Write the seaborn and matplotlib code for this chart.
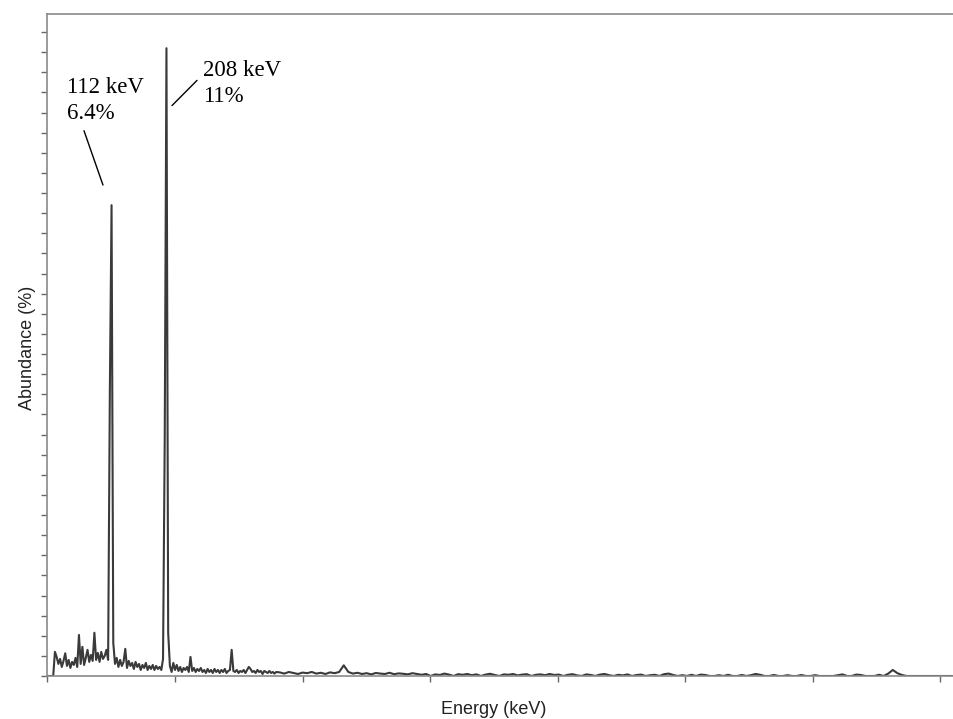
import numpy as np
import pandas as pd
import matplotlib
matplotlib.use("Agg")
import matplotlib.pyplot as plt
import seaborn as sns

# Spectrum: fine 3 keV channels up to 400 keV,
# coarser 8 keV channels above (the tail is almost flat)
energy_low = np.arange(1, 401, 3)
counts_low = [
    0, 0, 0, 0, 1.2, 0.95, 0.6, 0.85, 0.45, 0.75,
    1.13, 0.5, 0.8, 0.4, 0.7, 0.55, 0.9, 0.45, 2.04, 0.6,
    1.45, 0.55, 0.9, 1.3, 0.7, 1.05, 0.75, 2.15, 0.8, 1.15,
    0.7, 1.2, 0.85, 1.0, 1.3, 0.8, 14.1, 23.4, 1.65, 0.6,    # 112 keV line
    0.9, 0.45, 0.8, 0.5, 0.7, 1.35, 0.4, 0.75, 0.5, 0.65,
    0.35, 0.7, 0.45, 0.6, 0.3, 0.55, 0.4, 0.65, 0.3, 0.5,
    0.35, 0.55, 0.3, 0.5, 0.35, 0.45, 0.3, 0.85, 11.9, 31.2,  # 208 keV line
    2.15, 0.5, 0.2, 0.65, 0.3, 0.55, 0.25, 0.45, 0.2, 0.4,
    0.3, 0.45, 0.2, 0.95, 0.25, 0.4, 0.2, 0.35, 0.25, 0.4,
    0.2, 0.3, 0.15, 0.35, 0.2, 0.3, 0.15, 0.35, 0.2, 0.3,
    0.15, 0.3, 0.2, 0.35, 0.15, 0.25, 0.3, 1.3, 0.25, 0.2,
    0.3, 0.15, 0.25, 0.2, 0.3, 0.15, 0.3, 0.45, 0.35, 0.2,
    0.25, 0.15, 0.3, 0.2, 0.25, 0.1, 0.25, 0.2, 0.15, 0.25,
    0.15, 0.2, 0.12, 0.2,
]
energy_high = np.arange(406, 1590, 8)
counts_high = [
    0.18, 0.12, 0.2, 0.15, 0.1, 0.17, 0.14, 0.2, 0.12, 0.16,
    0.1, 0.18, 0.14, 0.2, 0.53, 0.2, 0.12, 0.16, 0.1, 0.14,
    0.08, 0.15, 0.12, 0.1, 0.16, 0.09, 0.13, 0.11, 0.08, 0.14,
    0.1, 0.06, 0.1, 0.0, 0.08, 0.05, 0.12, 0.07, 0.0, 0.09,
    0.06, 0.1, 0.04, 0.08, 0.0, 0.07, 0.11, 0.05, 0.0, 0.08,
    0.06, 0.1, 0.03, 0.07, 0.09, 0.0, 0.06, 0.08, 0.04, 0.1,
    0.05, 0.07, 0.0, 0.06, 0.09, 0.03, 0.0, 0.08, 0.05, 0.0,
    0.07, 0.1, 0.04, 0.0, 0.06, 0.03, 0.08, 0.0, 0.05, 0.07,
    0.0, 0.04, 0.06, 0.0, 0.09, 0.12, 0.05, 0.0, 0.04, 0.0,
    0.06, 0.0, 0.07, 0.05, 0.0, 0.0, 0.04, 0.0, 0.06, 0.0,
    0.0, 0.05, 0.0, 0.04, 0.1, 0.06, 0.0, 0.0, 0.05, 0.0,
    0.0, 0.04, 0.0, 0.0, 0.05, 0.0, 0.0, 0.04, 0.0, 0.0,
    0.0, 0.0, 0.04, 0.08, 0.0, 0.0, 0.07, 0.05, 0.0, 0.0,
    0.0, 0.06, 0.0, 0.12, 0.3, 0.14, 0.05, 0.0, 0.0, 0.0,
    0.0, 0.0, 0.0, 0.0, 0.0, 0.0, 0.0, 0.0,
]

peak_labels = ["112 keV\n6.4%", "208 keV\n11%"]

spectrum = pd.DataFrame({
    "energy": np.concatenate([energy_low, energy_high]),
    "counts": counts_low + counts_high,
})

sns.set_theme(style="white")
plt.rcParams["font.family"] = ["Liberation Sans", "DejaVu Sans"]

fig = plt.figure(figsize=(9.54, 7.19), dpi=100)
ax = fig.add_axes([47.5 / 954, 43 / 719, 906.5 / 954, 662 / 719])

sns.lineplot(data=spectrum, x="energy", y="counts", ax=ax,
             color="#3a3a3a", linewidth=1.5, estimator=None)

ax.set_xlim(0, 1585)
ax.set_ylim(0, 32.9)
ax.set_xticks(np.arange(0, 1585, 223))
ax.set_yticks(np.arange(0, 33, 1))
ax.set_xticklabels([])
ax.set_yticklabels([])
ax.tick_params(axis="both", direction="out", length=4, width=1,
               color="#666666", bottom=True, left=True)

for side in ["top", "left", "bottom"]:
    ax.spines[side].set_color("#8a8a8a")
    ax.spines[side].set_linewidth(1.2)
ax.spines["right"].set_visible(False)

ax.set_xlabel("Energy (keV)", fontsize=13, color="#222222")
ax.set_ylabel("Abundance (%)", fontsize=13, color="#222222")
ax.xaxis.label.set_va("center")
ax.yaxis.label.set_va("center")
ax.xaxis.set_label_coords(0.492, -0.051)
ax.yaxis.set_label_coords(-0.022, 0.496)

# labels for the two lines, with thin leader lines
ax.text(34, 29.75, peak_labels[0], ha="left", va="top", fontsize=16.5,
        family=["Liberation Serif", "DejaVu Serif"], linespacing=1.3, color="black")
ax.text(272, 30.6, peak_labels[1], ha="left", va="top", fontsize=16.5,
        family=["Liberation Serif", "DejaVu Serif"], linespacing=1.3, color="black")
ax.plot([63.8, 97.0], [27.1, 24.4], color="black", linewidth=1)
ax.plot([217.7, 261.4], [28.35, 29.6], color="black", linewidth=1)

fig.savefig("out.png", dpi=100)
